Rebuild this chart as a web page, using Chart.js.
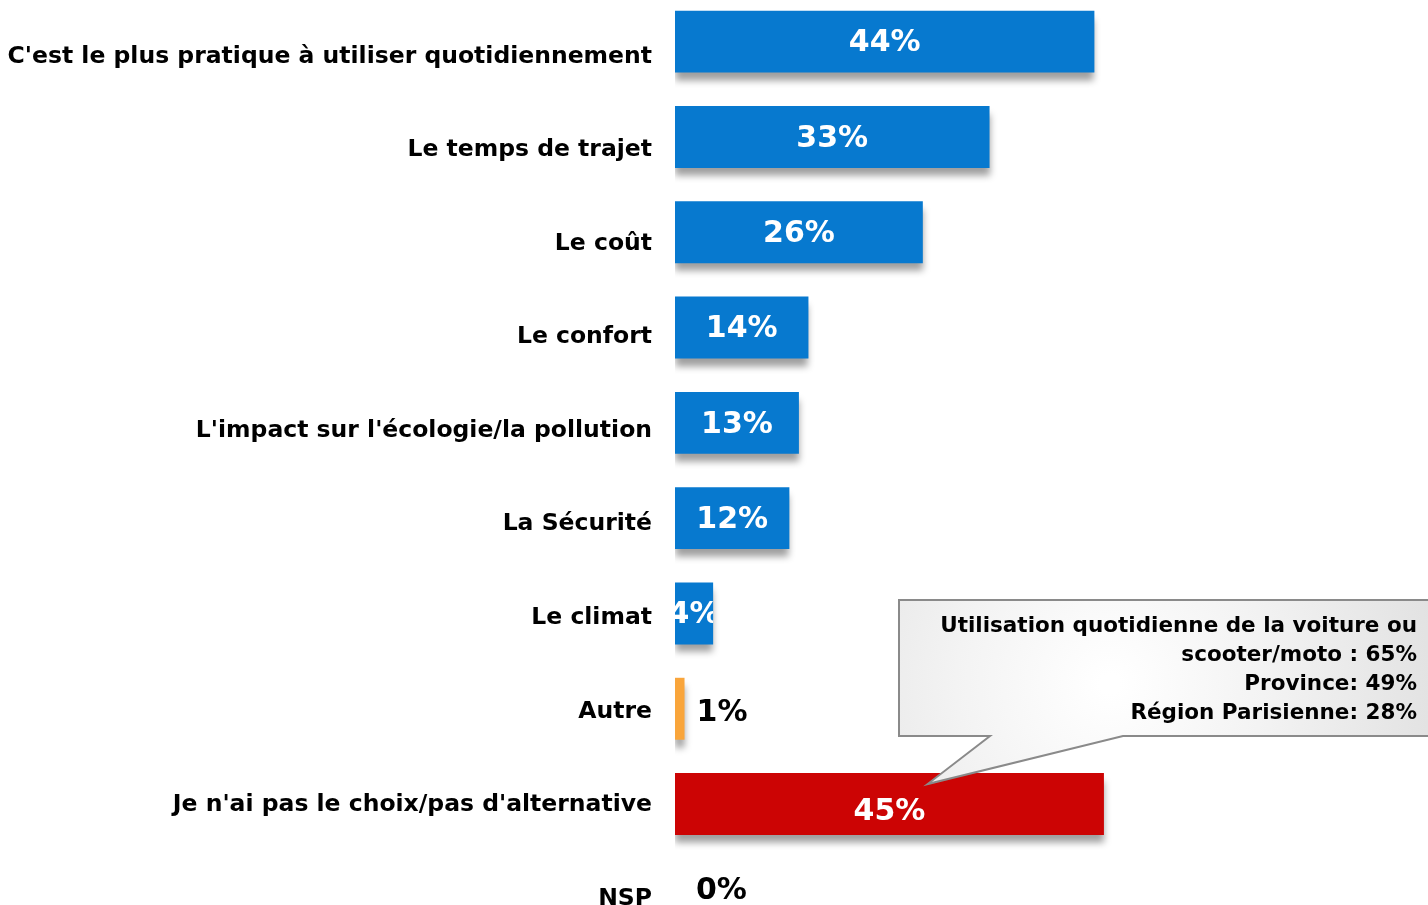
<!DOCTYPE html>
<html lang="fr">
<head>
<meta charset="utf-8">
<title>Raisons du choix du mode de transport</title>
<script src="https://cdn.jsdelivr.net/npm/chart.js@4/dist/chart.umd.min.js"></script>
<style>
    html, body { margin: 0; padding: 0; background: #ffffff; overflow: hidden; }
    #wrap { position: absolute; left: 0; top: -6px; width: 1428px; height: 953px; }
</style>
</head>
<body>
<div id="wrap"><canvas id="reasonsChart"></canvas></div>
<script>
// Data
const CATEGORIES = [
    "C'est le plus pratique à utiliser quotidiennement",
    "Le temps de trajet",
    "Le coût",
    "Le confort",
    "L'impact sur l'écologie/la pollution",
    "La Sécurité",
    "Le climat",
    "Autre",
    "Je n'ai pas le choix/pas d'alternative",
    "NSP"
];
const VALUES = [44, 33, 26, 14, 13, 12, 4, 1, 45, 0];
const BAR_KIND = ['main', 'main', 'main', 'main', 'main', 'main', 'main', 'other', 'nochoice', 'main'];
const CALLOUT_LINES = [
    "Utilisation quotidienne de la voiture ou",
    "scooter/moto : 65%",
    "Province: 49%",
    "Région Parisienne: 28%"
];

const colors = {
    main: '#0779cf',
    other: '#f9a53b',
    nochoice: '#cc0404',
    text: '#000000',
    white: '#ffffff',
    calloutBorder: '#8a8a8a'
};
const FONT = "'DejaVu Sans', Verdana, sans-serif";

// the names are spaced a little tighter than the bars (fraction of plot height)
const LABEL_START = 0.0655;
const LABEL_STEP = 0.0982;

// drop shadow under the bars
const barShadow = {
    id: 'barShadow',
    beforeDatasetDraw(chart) {
        const ctx = chart.ctx;
        ctx.save();
        ctx.shadowColor = 'rgba(0, 0, 0, 0.38)';
        ctx.shadowBlur = 7;
        ctx.shadowOffsetX = 0;
        ctx.shadowOffsetY = 8;
    },
    afterDatasetDraw(chart) {
        chart.ctx.restore();
    }
};

// category names, placed along the y scale
const categoryLabels = {
    id: 'categoryLabels',
    afterDraw(chart) {
        const ctx = chart.ctx;
        const scale = chart.scales.y;
        ctx.save();
        ctx.font = 'bold 23.5px ' + FONT;
        ctx.fillStyle = colors.text;
        ctx.textAlign = 'right';
        ctx.textBaseline = 'middle';
        CATEGORIES.forEach((name, i) => {
            ctx.fillText(name, chart.chartArea.left - 23, scale.getPixelForDecimal(LABEL_START + i * LABEL_STEP));
        });
        ctx.restore();
    }
};

// percentage labels: white inside the bar, black after it for tiny bars
const valueLabels = {
    id: 'valueLabels',
    afterDatasetsDraw(chart) {
        const ctx = chart.ctx;
        const meta = chart.getDatasetMeta(0);
        ctx.save();
        ctx.font = 'bold 30px ' + FONT;
        ctx.textBaseline = 'middle';
        meta.data.forEach((bar, i) => {
            const v = VALUES[i];
            const txt = v + '%';
            const left = Math.min(bar.base, bar.x);
            const right = Math.max(bar.base, bar.x);
            if (v >= 4) {
                ctx.save();
                ctx.beginPath();
                ctx.rect(left, bar.y - bar.height / 2, right - left, bar.height);
                ctx.clip();
                ctx.fillStyle = colors.white;
                ctx.textAlign = 'center';
                ctx.fillText(txt, (left + right) / 2, bar.y + (i === 8 ? 8 : 2));
                ctx.restore();
            } else {
                ctx.fillStyle = colors.text;
                ctx.textAlign = 'left';
                ctx.fillText(txt, right + (v === 0 ? 21 : 12), bar.y - (v === 0 ? 8 : -4));
            }
        });
        ctx.restore();
    }
};

// speech bubble pointing at the "pas le choix" bar
const callout = {
    id: 'callout',
    afterDraw(chart) {
        const ctx = chart.ctx;
        const bar = chart.getDatasetMeta(0).data[8];
        const tipX = chart.scales.x.getPixelForValue(26.5);
        const tipY = bar.y - bar.height / 2 + 11;
        const top = 606, bottom = 742, left = 899, right = 1440;

        ctx.save();
        ctx.beginPath();
        ctx.moveTo(left, top);
        ctx.lineTo(right, top);
        ctx.lineTo(right, bottom);
        ctx.lineTo(1123, bottom);
        ctx.lineTo(tipX, tipY);
        ctx.lineTo(990, bottom);
        ctx.lineTo(left, bottom);
        ctx.closePath();
        const g = ctx.createRadialGradient(1110, 690, 10, 1110, 690, 330);
        g.addColorStop(0, '#ffffff');
        g.addColorStop(0.45, '#f3f3f3');
        g.addColorStop(1, '#e2e2e2');
        ctx.fillStyle = g;
        ctx.fill();
        ctx.lineWidth = 2;
        ctx.strokeStyle = colors.calloutBorder;
        ctx.stroke();

        ctx.font = 'bold 21.5px ' + FONT;
        ctx.fillStyle = colors.text;
        ctx.textAlign = 'right';
        ctx.textBaseline = 'middle';
        CALLOUT_LINES.forEach((line, i) => {
            ctx.fillText(line, 1417, 632 + i * 29);
        });
        ctx.restore();
    }
};

const ctx = document.getElementById('reasonsChart').getContext('2d');
new Chart(ctx, {
    type: 'bar',
    data: {
        labels: CATEGORIES,
        datasets: [{
            data: VALUES,
            backgroundColor: BAR_KIND.map(k => colors[k]),
            borderWidth: 0,
            barPercentage: 0.65,
            categoryPercentage: 1.0
        }]
    },
    options: {
        indexAxis: 'y',
        responsive: true,
        maintainAspectRatio: false,
        animation: false,
        layout: { padding: { left: 675, right: 0, top: 0, bottom: 0 } },
        plugins: {
            legend: { display: false },
            tooltip: { enabled: false }
        },
        scales: {
            x: {
                type: 'linear',
                min: 0,
                max: 79,
                display: false
            },
            y: {
                type: 'category',
                display: false
            }
        }
    },
    plugins: [barShadow, valueLabels, categoryLabels, callout]
});
</script>
</body>
</html>
